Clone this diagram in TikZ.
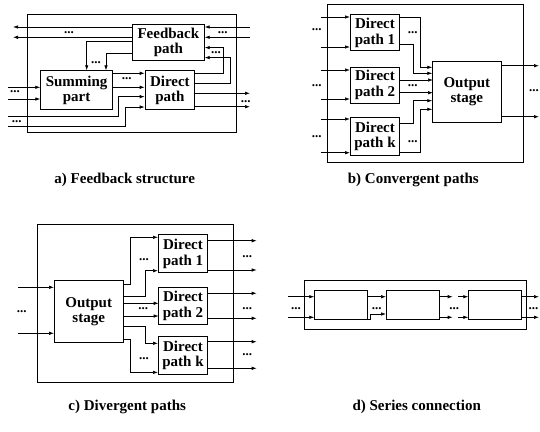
\documentclass[tikz,border=0pt]{standalone}
\usepackage{fontspec}
\setmainfont{Liberation Serif}
\usetikzlibrary{arrows.meta}
\tikzset{
  >={Latex[length=5pt,width=3.5pt]},
  block/.style={draw, line width=0.7pt, inner sep=0pt, anchor=north west, align=center,
    font=\fontsize{15}{15.5}\selectfont\bfseries},
  frame/.style={draw, line width=0.7pt},
  wire/.style={line width=0.7pt},
  more/.style={inner sep=0pt, font=\fontsize{13}{13}\selectfont\bfseries},
  caption/.style={font=\fontsize{15}{16}\selectfont\bfseries}
}
\begin{document}
\begin{tikzpicture}[x=1pt, y=-1pt]
  \useasboundingbox (0,0) rectangle (540,431);
  % a) feedback structure
  \draw [frame] (27.3,14.3) rectangle (236.7,132.7);
  \node [block, minimum width=72pt, minimum height=36.3pt] (fb) at (132,24) {Feedback\\path};
  \node [block, minimum width=72pt, minimum height=39pt] (sum) at (40.3,70.3) {Summing\\part};
  \node [block, minimum width=49.6pt, minimum height=39pt] (da) at (144.7,70.3) {Direct\\path};
  \foreach \n/\y in {1/27, 2/37.3} {
    \coordinate (aFo\n) at (13,\y);
    \coordinate (aFi\n) at (250,\y);
    \draw [wire, <-] (aFo\n) -- (aFo\n -| fb.west);
    \draw [wire, ->] (aFi\n) -- (aFi\n -| fb.east);
  };
  \foreach \n/\y in {1/87.3, 2/99} {
    \coordinate (aSi\n) at (8,\y);
    \draw [wire, ->] (aSi\n) -- (aSi\n -| sum.west);
  };
  \foreach \n/\y in {1/93.3, 2/106.7} {
    \coordinate (aDo\n) at (250,\y);
    \draw [wire, ->] (aDo\n -| da.east) -- (aDo\n);
  };
  \coordinate (aDi1) at (8,116.3);
  \coordinate (aDi2) at (8,126);
  \draw [wire, ->] (aDi1) -- ++(110.7,0) |- ([yshift=-6.5pt]da.west);
  \draw [wire, ->] (aDi2) -- ++(117.7,0) |- ([yshift=-16.9pt]da.west);
  \draw [wire, ->] ([yshift=-3pt]sum.north east) -- ([yshift=-3pt]da.north west);
  \draw [wire, ->] ([yshift=-17pt]sum.north east) -- ([yshift=-17pt]da.north west);
  \draw [wire, ->] ([yshift=1.5pt]fb.west) -| ([xshift=46.4pt]sum.north west);
  \draw [wire, ->] ([yshift=-11.1pt]fb.west) -| ([xshift=65.7pt]sum.north west);
  \draw [wire, ->] ([yshift=-3pt]da.north east) -- ++(28.4,0) |- ([yshift=-5.1pt]fb.east);
  \draw [wire, ->] ([yshift=-12.7pt]da.north east) -- ++(35.7,0) |- ([yshift=-15.1pt]fb.east);
  \foreach \x/\y [count=\i] in {69/33, 222.7/33, 96/62.7, 216/52.7, 126.7/79,
      15/91.7, 16.7/121.7, 245.7/101.3}
    \node [more] (aM\i) at (\x,\y) {...};
  \node [caption] (capA) at (124.7,180) {a) Feedback structure};

  % b) convergent paths
  \draw [frame] (327.7,4.3) rectangle (523.3,162.3);
  \node [block, minimum width=49.3pt, minimum height=36pt] (p1) at (350,14.3) {Direct\\path 1};
  \node [block, minimum width=49.3pt, minimum height=36pt] (p2) at (350,66.7) {Direct\\path 2};
  \node [block, minimum width=49.3pt, minimum height=38.3pt] (pk) at (350,116.7) {Direct\\path k};
  \node [block, minimum width=68.4pt, minimum height=61.6pt] (os) at (432.3,60.7) {Output\\stage};
  \foreach \b/\n/\y in {p1/1/17, p1/2/47, p2/3/70, p2/4/99, pk/5/119, pk/6/152.7} {
    \coordinate (bI\n) at (320.7,\y);
    \draw [wire, ->] (bI\n) -- (bI\n -| \b.west);
  };
  \draw [wire, ->] ([yshift=-3pt]p1.north east) -- ++(20,0) |- ([yshift=-6.6pt]os.north west);
  \draw [wire, ->] ([yshift=7pt]p1.south east) -- ++(13.4,0) |- ([yshift=-12.6pt]os.north west);
  \draw [wire, ->] ([yshift=-13.3pt]p2.north east) -- ++(33,0);
  \draw [wire, ->] ([yshift=-26pt]p2.north east) -- ++(33,0);
  \draw [wire, ->] ([yshift=-6.3pt]pk.north east) -- ++(13.4,0) |- ([yshift=-40pt]os.north west);
  \draw [wire, ->] ([yshift=3pt]pk.south east) -- ++(20,0) |- ([yshift=-48.6pt]os.north west);
  \foreach \n/\y in {1/65.7, 2/116.7} {
    \coordinate (bO\n) at (539,\y);
    \draw [wire, ->] (bO\n -| os.east) -- (bO\n);
  };
  \foreach \x/\y [count=\i] in {316.7/30, 316.7/85.3, 316.7/136.7, 412.7/32.7,
      412.7/86, 412.7/141.7, 534/90.7}
    \node [more] (bM\i) at (\x,\y) {...};
  \node [caption] (capB) at (413.3,180) {b) Convergent paths};

  % c) divergent paths
  \draw [frame] (37.3,224.3) rectangle (233.3,382.3);
  \node [block, minimum width=68.7pt, minimum height=62.3pt] (cos) at (54,280) {Output\\stage};
  \node [block, minimum width=49.3pt, minimum height=38pt] (c1) at (158,234.3) {Direct\\path 1};
  \node [block, minimum width=49.3pt, minimum height=36.7pt] (c2) at (158,287.3) {Direct\\path 2};
  \node [block, minimum width=49.3pt, minimum height=38pt] (ck) at (158,336) {Direct\\path k};
  \foreach \n/\y in {1/287.3, 2/333.3} {
    \coordinate (cI\n) at (18,\y);
    \draw [wire, ->] (cI\n) -- (cI\n -| cos.west);
  };
  \draw [wire, ->] ([yshift=-4pt]cos.north east) -- ++(6.6,0) |- ([yshift=-3pt]c1.north west);
  \draw [wire, ->] ([yshift=-16.7pt]cos.north east) -- ++(22,0) |- ([yshift=2.3pt]c1.south west);
  \draw [wire, ->] ([yshift=-23.3pt]cos.north east) -- ++(35.3,0);
  \draw [wire, ->] ([yshift=-36pt]cos.north east) -- ++(35.3,0);
  \draw [wire, ->] ([yshift=-46.7pt]cos.north east) -- ++(22,0) |- ([yshift=-7.3pt]ck.north west);
  \draw [wire, ->] ([yshift=-59.3pt]cos.north east) -- ++(6.6,0) |- ([yshift=2.3pt]ck.south west);
  \foreach \b/\n/\y in {c1/1/240.7, c1/2/270, c2/3/293.3, c2/4/318.3, ck/5/341.7, ck/6/368.3} {
    \coordinate (cO\n) at (256.7,\y);
    \draw [wire, ->] (cO\n -| \b.east) -- (cO\n);
  };
  \foreach \x/\y [count=\i] in {21.7/311.7, 144/260, 143.3/308.3, 144/358.3,
      247.3/256.7, 247.3/308.3, 247.3/355}
    \node [more] (cM\i) at (\x,\y) {...};
  \node [caption] (capC) at (127.2,407) {c) Divergent paths};

  % d) series connection
  \draw [frame] (304.7,280) rectangle (526.7,329.3);
  \node [block, minimum width=53pt, minimum height=29.3pt] (d1) at (314.3,290) {};
  \node [block, minimum width=52.7pt, minimum height=29.3pt] (d2) at (386,290) {};
  \node [block, minimum width=52.4pt, minimum height=29.3pt] (d3) at (468.3,290) {};
  \foreach \n/\y in {1/296.7, 2/317.3} {
    \coordinate (dI\n) at (288.3,\y);
    \coordinate (dA\n) at (452.7,\y);
    \coordinate (dB\n) at (458.3,\y);
    \coordinate (dO\n) at (539,\y);
    \draw [wire, ->] (dI\n) -- (dI\n -| d1.west);
    \draw [wire, ->] (dA\n -| d2.east) -- (dA\n);
    \draw [wire, ->] (dB\n) -- (dB\n -| d3.west);
    \draw [wire, ->] (dO\n -| d3.east) -- (dO\n);
  };
  \draw [wire, ->] ([yshift=-6.7pt]d1.north east) -- ([yshift=-6.7pt]d2.north west);
  \draw [wire, ->] ([yshift=1pt]d1.south east) -- ++(2.7,0) |- ([yshift=6pt]d2.south west);
  \foreach \x/\y [count=\i] in {296/309, 376.7/309, 454.3/309, 533.5/309}
    \node [more] (dM\i) at (\x,\y) {...};
  \node [caption] (capD) at (416.7,407) {d) Series connection};
\end{tikzpicture}
\end{document}
